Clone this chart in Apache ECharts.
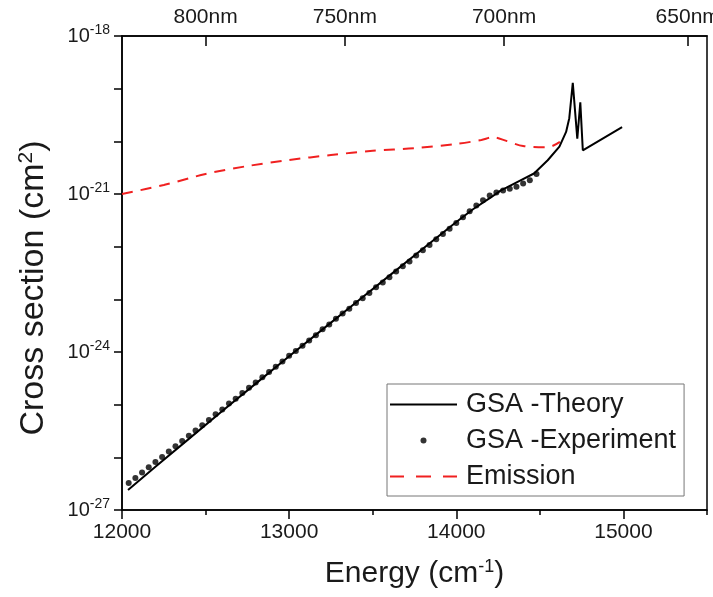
<!DOCTYPE html>
<html>
<head>
<meta charset="utf-8">
<script src="https://cdn.jsdelivr.net/npm/echarts@6/dist/echarts.min.js"></script>
<style>
html,body{margin:0;padding:0;background:#fff;}
#chart{width:713px;height:597px;}
</style>
</head>
<body>
<div id="chart"></div>
<script>
// ---- data ----
const theoryEnergy = [12036, 12200, 12400, 12600, 12800, 13000, 13200, 13400, 13600, 13800, 14000, 14100, 14200, 14267, 14300, 14367, 14465, 14547, 14617, 14657, 14676, 14697, 14724, 14742, 14757, 14992];
const theorySigma = [2.40e-27, 6.61e-27, 2.24e-26, 7.59e-26, 2.51e-25, 8.32e-25, 2.69e-24, 8.71e-24, 2.82e-23, 9.12e-23, 2.95e-22, 5.13e-22, 8.32e-22, 1.17e-21, 1.32e-21, 1.70e-21, 2.45e-21, 4.37e-21, 7.94e-21, 1.51e-20, 2.75e-20, 1.29e-19, 1.12e-20, 5.50e-20, 6.76e-21, 1.86e-20];

const expEnergy = [12040, 12080, 12120, 12160, 12200, 12240, 12280, 12320, 12360, 12400,
  12440, 12480, 12520, 12560, 12600, 12640, 12680, 12720, 12760, 12800,
  12840, 12880, 12920, 12960, 13000, 13040, 13080, 13120, 13160, 13200,
  13240, 13280, 13320, 13360, 13400, 13440, 13480, 13520, 13560, 13600,
  13640, 13680, 13720, 13760, 13800, 13840, 13880, 13920, 13960, 14000,
  14040, 14080, 14120, 14160, 14200, 14240, 14280, 14320, 14360, 14400,
  14440, 14480];
const expSigma = [3.24e-27, 4.07e-27, 5.13e-27, 6.46e-27, 8.13e-27, 1.02e-26, 1.29e-26, 1.62e-26, 2.04e-26, 2.57e-26,
  3.24e-26, 4.07e-26, 5.13e-26, 6.61e-26, 8.13e-26, 1.05e-25, 1.29e-25, 1.66e-25, 2.09e-25, 2.63e-25,
  3.31e-25, 4.17e-25, 5.25e-25, 6.61e-25, 8.51e-25, 1.05e-24, 1.32e-24, 1.66e-24, 2.09e-24, 2.69e-24,
  3.31e-24, 4.27e-24, 5.37e-24, 6.61e-24, 8.51e-24, 1.05e-23, 1.32e-23, 1.70e-23, 2.09e-23, 2.63e-23,
  3.39e-23, 4.27e-23, 5.25e-23, 6.76e-23, 8.51e-23, 1.07e-22, 1.38e-22, 1.74e-22, 2.19e-22, 2.82e-22,
  3.63e-22, 4.68e-22, 6.03e-22, 7.59e-22, 9.33e-22, 1.07e-21, 1.17e-21, 1.26e-21, 1.38e-21, 1.58e-21,
  1.82e-21, 2.40e-21];

const emissionEnergy = [12000, 12250, 12500, 12750, 13000, 13250, 13500, 13750, 14000, 14150, 14220, 14300, 14400, 14550, 14620];
const emissionSigma = [1.00e-21, 1.48e-21, 2.40e-21, 3.39e-21, 4.42e-21, 5.50e-21, 6.61e-21, 7.41e-21, 8.91e-21, 1.06e-20, 1.20e-20, 1.02e-20, 8.13e-21, 7.76e-21, 9.77e-21];

const energyMajorTicks = [12000, 13000, 14000, 15000];
const wavelengthTicks = [800, 750, 700, 650]; // nm, top axis
const sigmaTicks = [1e-27, 1e-26, 1e-25, 1e-24, 1e-23, 1e-22, 1e-21, 1e-20, 1e-19, 1e-18];
const sigmaLabels = [1e-27, 1e-24, 1e-21, 1e-18];
const seriesNames = ['GSA -Theory', 'GSA -Experiment', 'Emission'];

// ---- chart ----
const FONT = "'Liberation Sans', Arial, sans-serif";
const TXT = '#1a1a1a';
const RED = '#f02020';
const zip = (xs, ys) => xs.map((x, i) => [x, ys[i]]);
const wavelengthPositions = wavelengthTicks.map(l => 1e7 / l);

const chart = echarts.init(document.getElementById('chart'), null, {renderer: 'canvas'});
chart.setOption({
  animation: false,
  backgroundColor: '#fff',
  textStyle: {fontFamily: FONT},
  grid: {left: 122, right: 6, top: 36, bottom: 87, containLabel: false, outerBoundsMode: 'none',
         show: true, borderColor: '#000', borderWidth: 1.5, backgroundColor: 'transparent'},
  legend: {
    orient: 'vertical', left: 387, top: 384,
    padding: [7, 8, 6, 3], itemGap: 9, itemWidth: 67, itemHeight: 6,
    borderColor: '#777', borderWidth: 1, backgroundColor: '#fff',
    data: [
      {name: seriesNames[0], icon: 'path://M0,0h67v2h-67z'},
      {name: seriesNames[1], icon: 'circle'},
      {name: seriesNames[2], icon: 'path://M0,0h14v2h-14zM26,0h15v2h-15zM53,0h14v2h-14z'}
    ],
    textStyle: {fontSize: 27, color: TXT, fontFamily: FONT, padding: [0, 0, 0, 4]}
  },
  xAxis: [
    {
      type: 'value', position: 'bottom', min: 12000, max: 15500, interval: 500,
      name: '{t|Energy (cm}{s|-1}{t|)}', nameLocation: 'middle', nameGap: 48, nameMoveOverlap: false,
      nameTextStyle: {rich: {
        t: {fontSize: 30, color: TXT, fontFamily: FONT},
        s: {fontSize: 18, color: TXT, fontFamily: FONT, padding: [0, 0, 14, 0]}
      }},
      axisLine: {show: true, onZero: false, lineStyle: {color: '#000', width: 1.5}},
      axisTick: {show: true, inside: false, length: 5, lineStyle: {color: '#000', width: 1.5}},
      axisLabel: {margin: 12, fontSize: 21, color: TXT, fontFamily: FONT, hideOverlap: false,
        customValues: energyMajorTicks, formatter: v => String(Math.round(v))},
      splitLine: {show: false}
    },
    {
      type: 'value', position: 'top', min: 12000, max: 15500,
      axisLine: {show: true, onZero: false, lineStyle: {color: '#000', width: 1.5}},
      axisTick: {show: true, inside: true, length: 10, customValues: wavelengthPositions,
        lineStyle: {color: '#000', width: 1.5}},
      axisLabel: {show: true, margin: 8, fontSize: 21, color: TXT, fontFamily: FONT,
        customValues: wavelengthPositions,
        formatter: v => Math.round(1e7 / v) + 'nm'},
      splitLine: {show: false}
    },
    {
      type: 'value', position: 'bottom', min: 12000, max: 15500,
      axisLine: {show: false},
      axisTick: {show: true, inside: false, length: 9, customValues: energyMajorTicks,
        lineStyle: {color: '#000', width: 1.5}},
      axisLabel: {show: false},
      splitLine: {show: false}
    }
  ],
  yAxis: {
    type: 'log', logBase: 10, min: 1e-27, max: 1e-18, splitNumber: 9,
    name: '{t|Cross section (cm}{s|2}{t|)}', nameLocation: 'middle', nameGap: 70,
    nameMoveOverlap: false, nameRotate: 90,
    nameTextStyle: {padding: [0, 30, 0, 0], rich: {
      t: {fontSize: 34, color: TXT, fontFamily: FONT},
      s: {fontSize: 21, color: TXT, fontFamily: FONT, padding: [0, 0, 15, 0]}
    }},
    axisLine: {show: true, onZero: false, lineStyle: {color: '#000', width: 1.5}},
    axisTick: {show: true, inside: false, length: 8, customValues: sigmaTicks,
      lineStyle: {color: '#000', width: 1.5}},
    axisLabel: {margin: 12, color: TXT, fontFamily: FONT, hideOverlap: false,
      customValues: sigmaLabels,
      formatter: v => '{b|10}{s|' + Math.round(Math.log10(v)) + '}',
      rich: {
        b: {fontSize: 20, color: TXT, fontFamily: FONT},
        s: {fontSize: 14, color: TXT, fontFamily: FONT, padding: [0, 0, 12, 0]}
      }},
    splitLine: {show: false}
  },
  series: [
    {
      name: seriesNames[0], type: 'line', xAxisIndex: 0, data: zip(theoryEnergy, theorySigma),
      symbol: 'none', lineStyle: {color: '#000', width: 2}, itemStyle: {color: '#000'}, z: 3
    },
    {
      name: seriesNames[1], type: 'scatter', xAxisIndex: 0, data: zip(expEnergy, expSigma),
      symbol: 'circle', symbolSize: 6, itemStyle: {color: '#000'}, z: 4
    },
    {
      name: seriesNames[2], type: 'line', xAxisIndex: 0, data: zip(emissionEnergy, emissionSigma),
      symbol: 'none', smooth: 0.3, lineStyle: {color: RED, width: 2, type: [11, 8]},
      itemStyle: {color: RED}, z: 2
    }
  ]
});
</script>
</body>
</html>
